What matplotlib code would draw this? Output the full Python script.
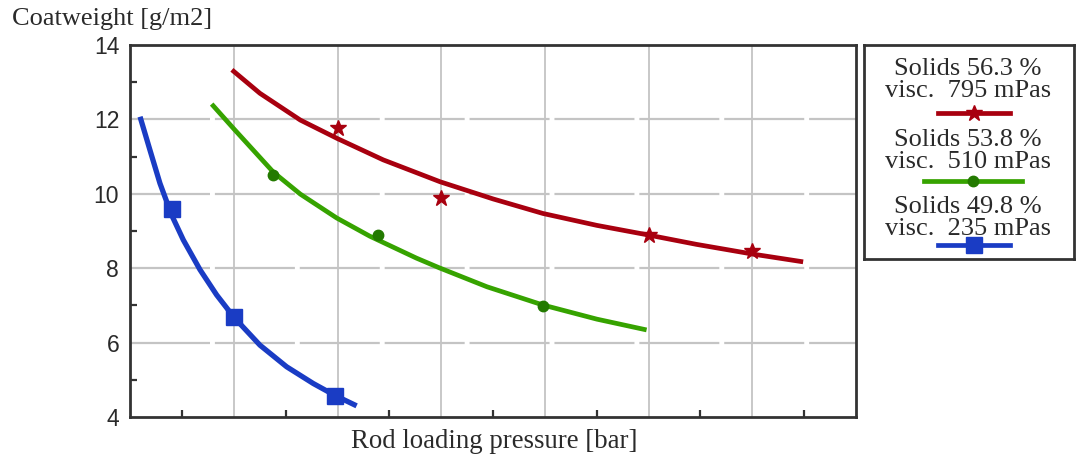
import matplotlib
matplotlib.use("Agg")
import matplotlib.pyplot as plt
from matplotlib.lines import Line2D

red_curve_x = [0.98, 1.25, 1.64, 2.0, 2.44, 2.99, 3.5, 3.98, 4.5, 4.98, 5.46, 6.0, 6.49]
red_curve_y = [13.33, 12.70, 11.98, 11.48, 10.91, 10.32, 9.86, 9.47, 9.15, 8.90, 8.64, 8.38, 8.17]
red_pts_x = [2.0, 3.0, 5.0, 6.0]
red_pts_y = [11.76, 9.88, 8.89, 8.45]

green_curve_x = [0.785, 1.0, 1.38, 1.64, 1.99, 2.31, 2.76, 2.98, 3.44, 3.98, 4.5, 4.98]
green_curve_y = [12.41, 11.74, 10.58, 9.99, 9.35, 8.86, 8.27, 8.01, 7.50, 7.01, 6.63, 6.34]
green_pts_x = [1.38, 2.39, 3.98]
green_pts_y = [10.50, 8.89, 6.98]

blue_curve_x = [0.094, 0.19, 0.286, 0.40, 0.511, 0.672, 0.833, 1.0, 1.251, 1.508, 1.765, 1.974, 2.183]
blue_curve_y = [12.07, 11.17, 10.28, 9.42, 8.76, 7.96, 7.28, 6.68, 5.93, 5.35, 4.90, 4.58, 4.30]
blue_pts_x = [0.40, 1.0, 1.975]
blue_pts_y = [9.58, 6.68, 4.57]

legend_labels = ["Solids 56.3 %\nvisc.  795 mPas",
                 "Solids 53.8 %\nvisc.  510 mPas",
                 "Solids 49.8 %\nvisc.  235 mPas"]
y_ticks = [4, 6, 8, 10, 12, 14]

RED = "#a8000f"
GREEN_LINE = "#36a300"
GREEN_MARK = "#237a00"
BLUE = "#1a3cc4"
FRAME = "#333333"
GRID = "#c4c4c4"
TEXT = "#2a2a2a"
SERIF = "Liberation Serif"
SANS = "Liberation Sans"

W, H = 1076, 461
fig = plt.figure(figsize=(W / 100, H / 100), dpi=100)
ax = fig.add_axes([130.3 / W, (H - 417) / H, (856 - 130.3) / W, (417 - 44.9) / H])

ax.set_xlim(0, 7)
ax.set_ylim(4, 14)

## grid: solid verticals, long dashed horizontals ##
for gx in range(1, 7):
    ax.axvline(gx, color=GRID, lw=1.3, zorder=0)
for gy in y_ticks[1:-1]:
    ax.axhline(gy, color=GRID, lw=1.6, ls=(0, (36, 2.2)), zorder=0)

ax.plot(red_curve_x, red_curve_y, color=RED, lw=3.4, solid_capstyle="butt",
        solid_joinstyle="round", zorder=3)
ax.plot(red_pts_x, red_pts_y, ls="none", marker="*", ms=12, color=RED, zorder=4)

ax.plot(green_curve_x, green_curve_y, color=GREEN_LINE, lw=3.4, solid_capstyle="butt",
        solid_joinstyle="round", zorder=3)
ax.plot(green_pts_x, green_pts_y, ls="none", marker="o", ms=7.5, color=GREEN_MARK, zorder=4)

ax.plot(blue_curve_x, blue_curve_y, color=BLUE, lw=3.8, solid_capstyle="butt",
        solid_joinstyle="round", zorder=3)
ax.plot(blue_pts_x, blue_pts_y, ls="none", marker="s", ms=11.5, color=BLUE, zorder=4)

## ticks ##
ax.set_xticks(range(0, 8))
ax.set_xticklabels([])
ax.set_xticks([i + 0.5 for i in range(7)], minor=True)
ax.set_yticks(y_ticks)
ax.set_yticklabels([str(v) for v in y_ticks], fontfamily=SANS, fontsize=16.5, color=TEXT)
ax.set_yticks([5, 7, 9, 11, 13], minor=True)
ax.tick_params(which="major", length=0, pad=8)
ax.tick_params(which="minor", direction="in", length=5, width=1.6, color=FRAME)
ax.tick_params(axis="x", which="minor", top=False)
ax.tick_params(axis="y", which="minor", right=False)

for sp in ax.spines.values():
    sp.set_color(FRAME)
    sp.set_linewidth(2)

fig.text(12 / W, 1 - 19 / H, "Coatweight [g/m2]", fontfamily=SERIF, fontsize=19,
         color=TEXT, ha="left", va="center")
fig.text(494 / W, 1 - 441 / H, "Rod loading pressure [bar]", fontfamily=SERIF, fontsize=19.3,
         color=TEXT, ha="center", va="center")

## legend box drawn by hand: text above, line sample below ##
lax = fig.add_axes([864 / W, (H - 259) / H, (1074 - 864) / W, (259 - 45) / H])
lax.set_xlim(864, 1074)
lax.set_ylim(259, 45)
lax.set_xticks([])
lax.set_yticks([])
for sp in lax.spines.values():
    sp.set_color(FRAME)
    sp.set_linewidth(2)

entries = [
    (legend_labels[0], 80, 113, 938, 1010, RED, RED, "*", 12),
    (legend_labels[1], 151, 181, 924, 1022, GREEN_LINE, GREEN_MARK, "o", 7.5),
    (legend_labels[2], 218, 245, 938, 1010, BLUE, BLUE, "s", 11.5),
]
for label, ty, ly, x0, x1, lc, mc, mk, ms in entries:
    lax.text(968, ty, label, fontfamily=SERIF, fontsize=19, color=TEXT,
             ha="center", va="center", linespacing=0.98)
    lax.add_line(Line2D([x0, x1], [ly, ly], color=lc, lw=3.4))
    lax.plot([(x0 + x1) / 2], [ly], marker=mk, ms=ms, color=mc)

fig.savefig("out.png", dpi=100)
